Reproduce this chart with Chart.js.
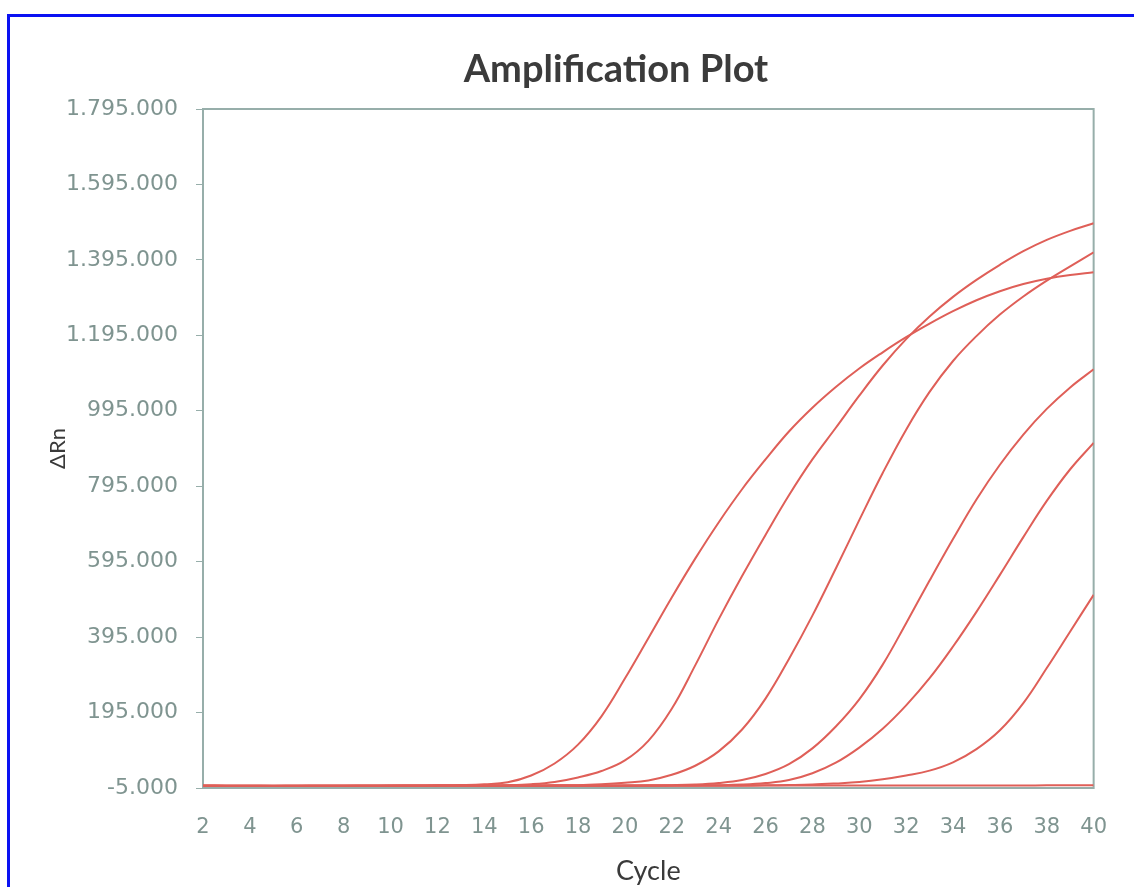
<!DOCTYPE html>
<html>
<head>
<meta charset="utf-8">
<script src="https://cdn.jsdelivr.net/npm/chart.js@4.4.1/dist/chart.umd.min.js"></script>
<style>
  html, body { margin: 0; padding: 0; background: #fff; overflow: hidden; }
  #frame { position: absolute; left: 7px; top: 14px; width: 1300px; height: 1000px; border: 3px solid #0b12f2; background: #fff; }
  #title { position: absolute; left: 0; top: 31px; width: 1212px; text-align: center; font: bold 38px Lato, sans-serif; line-height: 38px; color: #3b3b3b; }
  #chart { position: absolute; left: 0; top: 0; }
</style>
</head>
<body>
<div id="frame">
  <canvas id="chart" width="1124" height="870"></canvas>
  <div id="title">Amplification Plot</div>
</div>
<script>
const cycles = [2, 3, 4, 5, 6, 7, 8, 9, 10, 11, 12, 13, 14, 15, 16, 17, 18, 19, 20, 21,
  22, 23, 24, 25, 26, 27, 28, 29, 30, 31, 32, 33, 34, 35, 36, 37, 38, 39, 40];
const xTicks = [2, 4, 6, 8, 10, 12, 14, 16, 18, 20, 22, 24, 26, 28, 30, 32, 34, 36, 38, 40];
const yTicks = [-5000, 195000, 395000, 595000, 795000, 995000, 1195000, 1395000, 1595000, 1795000];

// delta Rn per well, cycles 2..40
const wellA = [1500, 1200, 1000, 900, 900, 1000, 1100, 1200, 1400, 1700, 2200, 3000, 5000, 10000,
  28000, 60000, 110000, 185000, 285000, 392000, 500000, 603000, 699000, 787000, 866000, 940000,
  1003000, 1058000, 1107000, 1150000, 1190000, 1226000, 1259000, 1288000, 1312000, 1331000,
  1345000, 1355000, 1362000];
const wellB = [1200, 1000, 900, 800, 800, 900, 1000, 1000, 1100, 1200, 1300, 1500, 1800, 2500,
  5000, 11000, 23000, 40000, 68000, 120000, 205000, 320000, 442000, 557000, 666000, 771000,
  866000, 950000, 1035000, 1115000, 1185000, 1245000, 1297000, 1342000, 1382000, 1418000,
  1448000, 1472000, 1492000];
const wellC = [1000, 900, 800, 800, 800, 900, 900, 1000, 1000, 1100, 1200, 1200, 1300, 1500,
  1700, 2000, 2500, 5000, 9000, 15000, 30000, 54000, 92000, 150000, 232000, 337000,
  452000, 577000, 705000, 830000, 945000, 1045000, 1127000, 1193000, 1250000, 1298000,
  1340000, 1378000, 1415000];
const wellD = [800, 700, 700, 600, 700, 700, 800, 800, 900, 900, 1000, 1000, 1100, 1100,
  1200, 1300, 1400, 1500, 1700, 2000, 2500, 4000, 8000, 16000, 32000, 58000,
  100000, 158000, 230000, 322000, 432000, 545000, 655000, 760000, 852000, 932000,
  1000000, 1057000, 1105000];
const wellE = [700, 600, 600, 600, 600, 700, 700, 700, 800, 800, 800, 900, 900, 1000,
  1000, 1100, 1100, 1200, 1300, 1400, 1600, 1900, 2400, 4000, 8000, 16000,
  34000, 62000, 102000, 152000, 214000, 286000, 370000, 462000, 560000, 660000,
  756000, 840000, 910000];
const wellF = [600, 600, 500, 500, 600, 600, 600, 700, 700, 700, 800, 800, 800, 900,
  900, 1000, 1000, 1100, 1100, 1200, 1300, 1400, 1600, 1800, 2200, 2800,
  4000, 7000, 11000, 18000, 28000, 41000, 63000, 98000, 148000, 220000,
  313000, 410000, 507000];
const wellG = [500, 500, 400, 400, 500, 500, 600, 600, 600, 700, 700, 700, 800, 800,
  800, 900, 900, 1000, 1000, 1000, 1100, 1100, 1200, 1200, 1300, 1300,
  1400, 1400, 1500, 1500, 1600, 1700, 1700, 1800, 1800, 1900,
  2000, 2000, 2100];

const wells = [wellA, wellB, wellC, wellD, wellE, wellF, wellG];

const lineColor = '#df5f58';
const axisColor = '#97aeaa';
const tickColor = '#7f9490';

// 1795000 -> "1.795.000"
const fmt = v => (v < 0 ? '-' : '') + String(Math.abs(v)).replace(/\B(?=(\d{3})+(?!\d))/g, '.');

// box around the plot area (Chart.js only draws left + bottom)
const plotFrame = {
  id: 'plotFrame',
  beforeDatasetsDraw(chart) {
    const { ctx, chartArea: a } = chart;
    ctx.save();
    ctx.strokeStyle = axisColor;
    ctx.lineWidth = 2;
    ctx.strokeRect(a.left, a.top, a.right - a.left, a.bottom - a.top);
    ctx.restore();
  }
};

new Chart(document.getElementById('chart'), {
  type: 'line',
  data: {
    datasets: wells.map((w, i) => ({
      label: 'Well ' + (i + 1),
      data: cycles.map((c, j) => ({ x: c, y: w[j] })),
      borderColor: lineColor,
      borderWidth: 2,
      pointRadius: 0,
      tension: 0.4,
      fill: false
    }))
  },
  plugins: [plotFrame],
  options: {
    responsive: false,
    animation: false,
    layout: { padding: { top: 92, right: 36, left: 0, bottom: 0 } },
    plugins: {
      legend: { display: false },
      tooltip: { enabled: false }
    },
    scales: {
      x: {
        type: 'linear',
        min: 2,
        max: 40,
        afterBuildTicks: s => { s.ticks = xTicks.map(v => ({ value: v })); },
        afterFit: s => { s.height = 99; },
        ticks: {
          color: tickColor,
          font: { family: 'DejaVu Sans', size: 21 },
          padding: 27,
          maxRotation: 0,
          autoSkip: false
        },
        grid: { display: false, drawTicks: false },
        border: { color: axisColor, width: 2 },
        title: {
          display: true,
          text: 'Cycle',
          color: '#3a3a3a',
          font: { family: 'Lato', size: 27 },
          padding: { top: 0, bottom: 0 }
        }
      },
      y: {
        min: -5000,
        max: 1795000,
        afterBuildTicks: s => { s.ticks = yTicks.map(v => ({ value: v })); },
        afterFit: s => { s.width = 193; },
        ticks: {
          callback: fmt,
          color: tickColor,
          font: { family: 'DejaVu Sans', size: 22 },
          padding: 18
        },
        grid: { drawOnChartArea: false, drawTicks: true, tickLength: 7, tickColor: axisColor },
        border: { color: axisColor, width: 2 },
        title: {
          display: true,
          text: 'ΔRn',
          color: '#3a3a3a',
          font: { family: 'Lato', size: 22 },
          padding: { top: 35, bottom: 0 }
        }
      }
    }
  }
});
</script>
</body>
</html>
